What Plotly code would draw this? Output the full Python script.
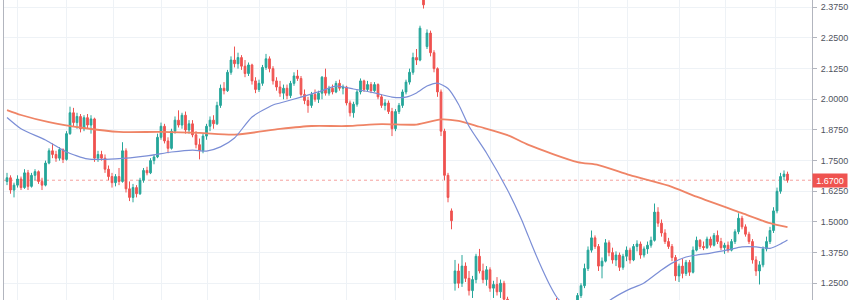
import plotly.graph_objects as go

# ---- data ----
opens = [
    1.665, 1.680, 1.630, 1.650, 1.675, 1.640, 1.700, 1.645, 1.690, 1.705,
    1.665, 1.650, 1.740, 1.790, 1.775, 1.760, 1.795, 1.755, 1.860, 1.945,
    1.905, 1.930, 1.880, 1.925, 1.895, 1.920, 1.760, 1.775, 1.760, 1.715,
    1.685, 1.660, 1.685, 1.665, 1.790, 1.635, 1.600, 1.640, 1.615, 1.670,
    1.710, 1.700, 1.750, 1.765, 1.845, 1.890, 1.830, 1.800, 1.870, 1.915,
    1.895, 1.935, 1.875, 1.900, 1.855, 1.815, 1.790, 1.850, 1.890, 1.915,
    1.900, 1.975, 2.045, 2.035, 2.110, 2.160, 2.145, 2.170, 2.135, 2.105,
    2.140, 2.075, 2.040, 2.065, 2.130, 2.165, 2.125, 2.075, 2.050, 2.025,
    2.045, 2.015, 2.065, 2.095, 2.085, 2.020, 1.995, 1.975, 2.020, 2.000,
    2.025, 2.090, 2.025, 2.045, 2.030, 2.065, 2.045, 2.050, 1.985, 1.945,
    1.980, 2.030, 2.075, 2.040, 2.060, 2.035, 2.060, 2.010, 1.975, 1.985,
    1.950, 1.880, 1.950, 1.975, 2.030, 2.070, 2.110, 2.170, 2.160, 2.460,
    2.215, 2.270, 2.190, 2.125, 2.030, 1.870, 1.690, 1.545, 1.250, 1.300,
    1.250, 1.320, 1.270, 1.220, 1.265, 1.360, 1.300, 1.265, 1.305, 1.230,
    1.245, 1.215, 1.250, 1.185, 1.130, 1.145, 1.095, 1.060, 1.085, 1.070,
    1.030, 1.055, 1.090, 1.065, 1.110, 1.095, 1.140, 1.160, 1.130, 1.100,
    1.120, 1.135, 1.150, 1.165, 1.200, 1.240, 1.310, 1.385, 1.435, 1.400,
    1.320, 1.340, 1.415, 1.375, 1.345, 1.365, 1.315, 1.360, 1.385, 1.345,
    1.400, 1.410, 1.365, 1.390, 1.405, 1.425, 1.540, 1.495, 1.455, 1.420,
    1.400, 1.355, 1.280, 1.320, 1.290, 1.335, 1.295, 1.385, 1.425, 1.400,
    1.395, 1.430, 1.405, 1.445, 1.420, 1.395, 1.405, 1.385, 1.420, 1.460,
    1.515, 1.480, 1.450, 1.420, 1.345, 1.300, 1.325, 1.390, 1.420, 1.465,
    1.545, 1.625, 1.685, 1.695,
]
highs = [
    1.700, 1.690, 1.660, 1.690, 1.685, 1.715, 1.712, 1.700, 1.715, 1.710,
    1.680, 1.750, 1.800, 1.820, 1.790, 1.805, 1.800, 1.870, 1.970, 1.965,
    1.945, 1.940, 1.935, 1.940, 1.935, 1.925, 1.790, 1.790, 1.775, 1.730,
    1.700, 1.695, 1.720, 1.825, 1.800, 1.665, 1.655, 1.650, 1.680, 1.720,
    1.725, 1.760, 1.775, 1.860, 1.905, 1.900, 1.845, 1.880, 1.930, 1.955,
    1.945, 1.950, 1.915, 1.915, 1.870, 1.840, 1.860, 1.900, 1.930, 1.935,
    1.990, 2.060, 2.070, 2.120, 2.175, 2.215, 2.190, 2.180, 2.160, 2.150,
    2.145, 2.090, 2.080, 2.140, 2.185, 2.175, 2.135, 2.090, 2.075, 2.060,
    2.060, 2.075, 2.110, 2.120, 2.095, 2.040, 2.010, 2.030, 2.040, 2.035,
    2.095, 2.125, 2.055, 2.060, 2.075, 2.080, 2.060, 2.055, 1.995, 1.990,
    2.040, 2.085, 2.080, 2.075, 2.070, 2.070, 2.065, 2.020, 2.000, 1.995,
    1.965, 1.960, 1.985, 2.040, 2.080, 2.125, 2.190, 2.205, 2.300, 2.500,
    2.285, 2.280, 2.200, 2.130, 2.040, 1.880, 1.700, 1.555, 1.345, 1.330,
    1.365, 1.335, 1.300, 1.280, 1.370, 1.390, 1.330, 1.320, 1.315, 1.260,
    1.275, 1.265, 1.260, 1.195, 1.160, 1.160, 1.120, 1.100, 1.110, 1.090,
    1.070, 1.100, 1.110, 1.120, 1.140, 1.150, 1.175, 1.190, 1.150, 1.130,
    1.150, 1.160, 1.175, 1.210, 1.250, 1.330, 1.400, 1.465, 1.445, 1.410,
    1.355, 1.430, 1.425, 1.395, 1.380, 1.375, 1.370, 1.400, 1.395, 1.410,
    1.425, 1.420, 1.400, 1.420, 1.440, 1.575, 1.560, 1.510, 1.470, 1.435,
    1.410, 1.365, 1.330, 1.350, 1.345, 1.345, 1.400, 1.440, 1.430, 1.420,
    1.440, 1.440, 1.455, 1.465, 1.435, 1.415, 1.420, 1.430, 1.470, 1.535,
    1.525, 1.490, 1.460, 1.430, 1.360, 1.340, 1.400, 1.440, 1.480, 1.560,
    1.640, 1.700, 1.710, 1.705,
]
lows = [
    1.650, 1.615, 1.600, 1.640, 1.630, 1.635, 1.630, 1.640, 1.670, 1.655,
    1.630, 1.645, 1.735, 1.760, 1.745, 1.750, 1.740, 1.750, 1.855, 1.890,
    1.880, 1.865, 1.870, 1.880, 1.860, 1.745, 1.745, 1.750, 1.700, 1.670,
    1.640, 1.645, 1.650, 1.660, 1.620, 1.585, 1.580, 1.600, 1.610, 1.660,
    1.690, 1.695, 1.735, 1.760, 1.835, 1.820, 1.780, 1.795, 1.860, 1.885,
    1.880, 1.860, 1.860, 1.845, 1.800, 1.755, 1.780, 1.835, 1.870, 1.880,
    1.895, 1.965, 2.020, 2.030, 2.100, 2.130, 2.125, 2.120, 2.090, 2.095,
    2.060, 2.025, 2.030, 2.055, 2.120, 2.110, 2.060, 2.035, 2.010, 2.000,
    2.000, 2.005, 2.055, 2.075, 2.010, 1.980, 1.945, 1.965, 1.990, 1.985,
    2.000, 2.015, 2.015, 2.020, 2.025, 2.035, 2.020, 1.975, 1.930, 1.925,
    1.970, 2.020, 2.030, 2.030, 2.025, 2.030, 2.000, 1.965, 1.955, 1.940,
    1.850, 1.870, 1.940, 1.965, 2.020, 2.060, 2.100, 2.140, 2.155, 2.370,
    2.205, 2.175, 2.110, 2.010, 1.850, 1.670, 1.580, 1.470, 1.220, 1.230,
    1.235, 1.255, 1.200, 1.190, 1.250, 1.290, 1.250, 1.240, 1.215, 1.190,
    1.200, 1.190, 1.170, 1.120, 1.090, 1.080, 1.040, 1.030, 1.050, 1.010,
    1.000, 1.040, 1.050, 1.060, 1.080, 1.085, 1.120, 1.120, 1.080, 1.070,
    1.100, 1.110, 1.130, 1.160, 1.190, 1.230, 1.300, 1.375, 1.390, 1.300,
    1.270, 1.335, 1.360, 1.330, 1.320, 1.300, 1.305, 1.340, 1.330, 1.340,
    1.380, 1.350, 1.355, 1.370, 1.395, 1.420, 1.480, 1.440, 1.410, 1.390,
    1.340, 1.260, 1.255, 1.270, 1.280, 1.280, 1.290, 1.380, 1.390, 1.385,
    1.390, 1.395, 1.400, 1.410, 1.385, 1.370, 1.375, 1.380, 1.410, 1.450,
    1.470, 1.440, 1.410, 1.330, 1.280, 1.245, 1.315, 1.380, 1.410, 1.455,
    1.535, 1.615, 1.670, 1.660,
]
closes = [
    1.680, 1.630, 1.650, 1.675, 1.640, 1.700, 1.645, 1.690, 1.705, 1.665,
    1.650, 1.740, 1.790, 1.775, 1.760, 1.795, 1.755, 1.860, 1.945, 1.905,
    1.930, 1.880, 1.925, 1.895, 1.920, 1.760, 1.775, 1.760, 1.715, 1.685,
    1.660, 1.685, 1.665, 1.790, 1.635, 1.600, 1.640, 1.615, 1.670, 1.710,
    1.700, 1.750, 1.765, 1.845, 1.890, 1.830, 1.800, 1.870, 1.915, 1.895,
    1.935, 1.875, 1.900, 1.855, 1.815, 1.790, 1.850, 1.890, 1.915, 1.900,
    1.975, 2.045, 2.035, 2.110, 2.160, 2.145, 2.170, 2.135, 2.105, 2.140,
    2.075, 2.040, 2.065, 2.130, 2.165, 2.125, 2.075, 2.050, 2.025, 2.045,
    2.015, 2.065, 2.095, 2.085, 2.020, 1.995, 1.975, 2.020, 2.000, 2.025,
    2.090, 2.025, 2.045, 2.030, 2.065, 2.045, 2.050, 1.985, 1.945, 1.980,
    2.030, 2.075, 2.040, 2.060, 2.035, 2.060, 2.010, 1.975, 1.985, 1.950,
    1.880, 1.950, 1.975, 2.030, 2.070, 2.110, 2.170, 2.160, 2.290, 2.385,
    2.270, 2.190, 2.125, 2.030, 1.870, 1.690, 1.600, 1.505, 1.300, 1.250,
    1.320, 1.270, 1.220, 1.265, 1.360, 1.300, 1.265, 1.305, 1.230, 1.245,
    1.215, 1.250, 1.185, 1.130, 1.145, 1.095, 1.060, 1.085, 1.070, 1.030,
    1.055, 1.090, 1.065, 1.110, 1.095, 1.140, 1.160, 1.130, 1.100, 1.120,
    1.135, 1.150, 1.165, 1.200, 1.240, 1.310, 1.385, 1.435, 1.400, 1.320,
    1.340, 1.415, 1.375, 1.345, 1.365, 1.315, 1.360, 1.385, 1.345, 1.400,
    1.410, 1.365, 1.390, 1.405, 1.425, 1.540, 1.495, 1.455, 1.420, 1.400,
    1.355, 1.280, 1.320, 1.290, 1.335, 1.295, 1.385, 1.425, 1.400, 1.395,
    1.430, 1.405, 1.445, 1.420, 1.395, 1.405, 1.385, 1.420, 1.460, 1.515,
    1.480, 1.450, 1.420, 1.345, 1.300, 1.325, 1.390, 1.420, 1.465, 1.545,
    1.625, 1.685, 1.695, 1.670,
]
bars = list(range(len(closes)))

# moving averages, read at selected bars
ma_fast_bars = [0, 4, 11, 17, 23, 31, 40, 47, 53, 57, 61, 65, 70, 76, 78, 84, 89,
                94, 99, 105, 110, 114, 117, 120, 123, 126, 129, 132, 137, 143,
                147, 149, 151, 153, 155, 157, 161, 165, 169, 172, 177, 182, 187,
                190, 194, 197, 201, 206, 210, 214, 218, 221, 223]
ma_fast = [1.926, 1.880, 1.834, 1.785, 1.757, 1.757, 1.769, 1.785, 1.793, 1.789,
           1.806, 1.842, 1.928, 1.977, 1.985, 2.009, 2.030, 2.054, 2.042, 2.026,
           2.009, 2.009, 2.026, 2.054, 2.066, 2.044, 1.980, 1.890, 1.781, 1.630,
           1.510, 1.440, 1.370, 1.305, 1.245, 1.195, 1.135, 1.115, 1.140, 1.178,
           1.220, 1.251, 1.304, 1.332, 1.357, 1.365, 1.373, 1.386, 1.398, 1.398,
           1.392, 1.410, 1.426]
ma_slow_bars = [0, 4, 12, 22, 32, 44, 55, 65, 78, 87, 97, 107, 117, 124, 129, 135,
                143, 149, 163, 169, 178, 189, 197, 210, 218, 223]
ma_slow = [1.956, 1.936, 1.907, 1.883, 1.867, 1.867, 1.863, 1.856, 1.879, 1.891,
           1.891, 1.899, 1.897, 1.918, 1.912, 1.888, 1.854, 1.814, 1.744, 1.732,
           1.691, 1.648, 1.603, 1.536, 1.495, 1.479]

last_price = 1.67
price_ticks = [1.25, 1.375, 1.5, 1.625, 1.75, 1.875, 2.0, 2.125, 2.25, 2.375]
time_grid = [3.1, 16.9, 30.3, 44.0, 57.4, 72.0, 97.1, 111.1, 124.6, 138.0,
             163.4, 177.4, 192.0, 205.4, 219.7]

UP = "#26a69a"
DOWN = "#ef5350"
GRID = "#eef2f6"
AXIS = "#b2b5be"

fig = go.Figure()
fig.add_trace(go.Scatter(x=ma_slow_bars, y=ma_slow, mode="lines",
                         line=dict(color="#ef8466", width=1.8, shape="spline", smoothing=0.7),
                         hoverinfo="skip"))
fig.add_trace(go.Scatter(x=ma_fast_bars, y=ma_fast, mode="lines",
                         line=dict(color="#7b8ed6", width=1.2, shape="spline", smoothing=0.6),
                         hoverinfo="skip"))
fig.add_trace(go.Candlestick(
    x=bars, open=opens, high=highs, low=lows, close=closes,
    increasing=dict(line=dict(color=UP, width=1), fillcolor=UP),
    decreasing=dict(line=dict(color=DOWN, width=1), fillcolor=DOWN),
    whiskerwidth=0,
))

fig.add_shape(type="line", xref="paper", x0=0, x1=1, y0=last_price, y1=last_price,
              line=dict(color="rgba(239,83,80,0.55)", width=1, dash="dot"), layer="below")
fig.add_annotation(xref="paper", x=1, xanchor="left", y=last_price, yanchor="middle",
                   text=f"{last_price:.4f}", showarrow=False, bgcolor=DOWN,
                   font=dict(color="white", size=9, family="Liberation Sans, Arial"),
                   width=32, height=11, borderpad=1)

fig.update_layout(
    width=850, height=300,
    margin=dict(l=4, r=38, t=0, b=0),
    paper_bgcolor="white", plot_bgcolor="white",
    showlegend=False,
    xaxis=dict(range=[-0.86, 230], rangeslider=dict(visible=False),
               tickvals=time_grid, showticklabels=False, ticks="",
               showgrid=True, gridcolor=GRID, gridwidth=1, zeroline=False,
               showline=False, fixedrange=True),
    yaxis=dict(side="right", range=[1.1817, 2.4048], tickvals=price_ticks,
               tickformat=".4f", showgrid=True, gridcolor=GRID, gridwidth=1,
               zeroline=False, showline=True, linecolor=AXIS, linewidth=1,
               mirror=True, ticks="outside", ticklen=4, tickcolor=AXIS,
               ticklabelstandoff=2,
               tickfont=dict(size=9, color="#50535e", family="Liberation Sans, Arial"),
               automargin=False, fixedrange=True),
)

fig.write_html("out.html")
